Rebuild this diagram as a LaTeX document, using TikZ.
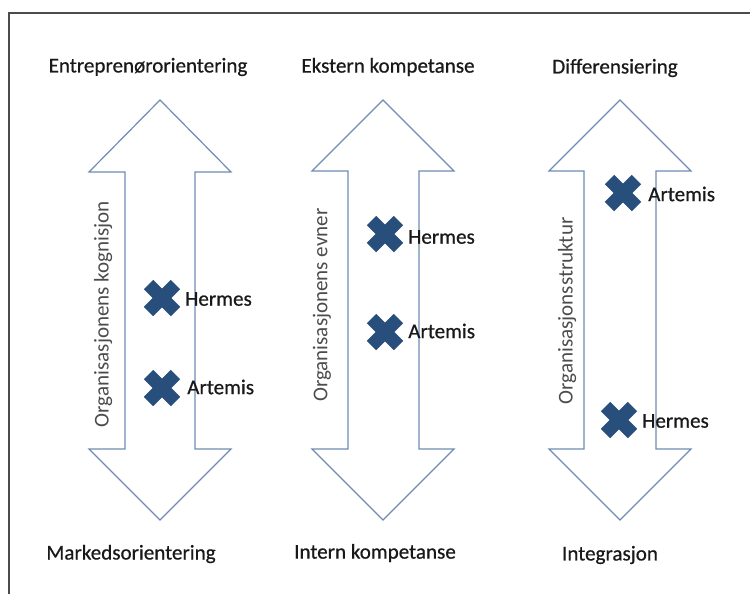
\documentclass[tikz,border=0pt]{standalone}
\usepackage{fontspec}
\setmainfont{Carlito}
\newfontfamily\heavyfont{Carlito}[FakeBold=0.6]
\begin{document}
\begin{tikzpicture}[x=0.75pt,y=-0.75pt,
  lbl/.style={font=\heavyfont\fontsize{15.8pt}{18pt}\selectfont, text=black!90, inner sep=0pt},
  axislbl/.style={font=\fontsize{15.8pt}{18pt}\selectfont, text=black!70, inner sep=0pt, rotate=90},
  marklbl/.style={font=\heavyfont\fontsize{15.8pt}{18pt}\selectfont, text=black!90, inner sep=0pt, anchor=west},
  dblarrow/.style={draw=arrowblue, line width=0.9pt, fill=white, line join=miter},
  frame/.style={draw=black!70, line width=1.4pt},
  pics/xmark/.style={code={
    \draw[line width=10pt, draw=xblue, line cap=butt, rounded corners=1pt] (-13.5,-13.5) -- (13.5,13.5);
    \draw[line width=10pt, draw=xblue, line cap=butt] (-13.5,13.5) -- (13.5,-13.5);
  }}
]
\definecolor{arrowblue}{RGB}{110,140,180}
\definecolor{xblue}{RGB}{40,78,124}
\useasboundingbox (0,0) rectangle (750,594);
\draw[frame] (9,594) -- (9,13) -- (750,13);

% arrows
\draw[dblarrow] (160,100) -- (231,172) -- (195,172) -- (195,449) -- (231,449) -- (160,520)
  -- (89,449) -- (125,449) -- (125,172) -- (89,172) -- cycle;
\draw[dblarrow] (383,100) -- (454,171) -- (419,171) -- (419,449) -- (454,449) -- (383,520)
  -- (312,449) -- (348,449) -- (348,171) -- (312,171) -- cycle;
\draw[dblarrow] (620,100) -- (691,171) -- (656,171) -- (656,449) -- (691,449) -- (620,520)
  -- (549,449) -- (584,449) -- (584,171) -- (549,171) -- cycle;

% top and bottom labels
\node[lbl] (t1) at (148,67) {Entreprenørorientering};
\node[lbl] (t2) at (388,67) {Ekstern kompetanse};
\node[lbl] (t3) at (615,68) {Differensiering};
\node[lbl] (b1) at (131,554) {Markedsorientering};
\node[lbl] (b2) at (375,553) {Intern kompetanse};
\node[lbl] (b3) at (610,555) {Integrasjon};

% axis labels
\node[axislbl] (a1) at (103,314) {Organisasjonens kognisjon};
\node[axislbl] (a2) at (322,305) {Organisasjonens evner};
\node[axislbl] (a3) at (567,311) {Organisasjonsstruktur};

% markers
\coordinate (h1) at (162,298); \pic at (h1) {xmark};
\coordinate (r1) at (162,388); \pic at (r1) {xmark};
\coordinate (h2) at (385,234); \pic at (h2) {xmark};
\coordinate (r2) at (385,332); \pic at (r2) {xmark};
\coordinate (r3) at (623,193); \pic at (r3) {xmark};
\coordinate (h3) at (619,420); \pic at (h3) {xmark};

\node[marklbl] (lh1) at (185,299) {Hermes};
\node[marklbl] (lr1) at (187,387) {Artemis};
\node[marklbl] (lh2) at (408,237) {Hermes};
\node[marklbl] (lr2) at (408,331) {Artemis};
\node[marklbl] (lr3) at (648,194) {Artemis};
\node[marklbl] (lh3) at (642,421) {Hermes};
\end{tikzpicture}
\end{document}
